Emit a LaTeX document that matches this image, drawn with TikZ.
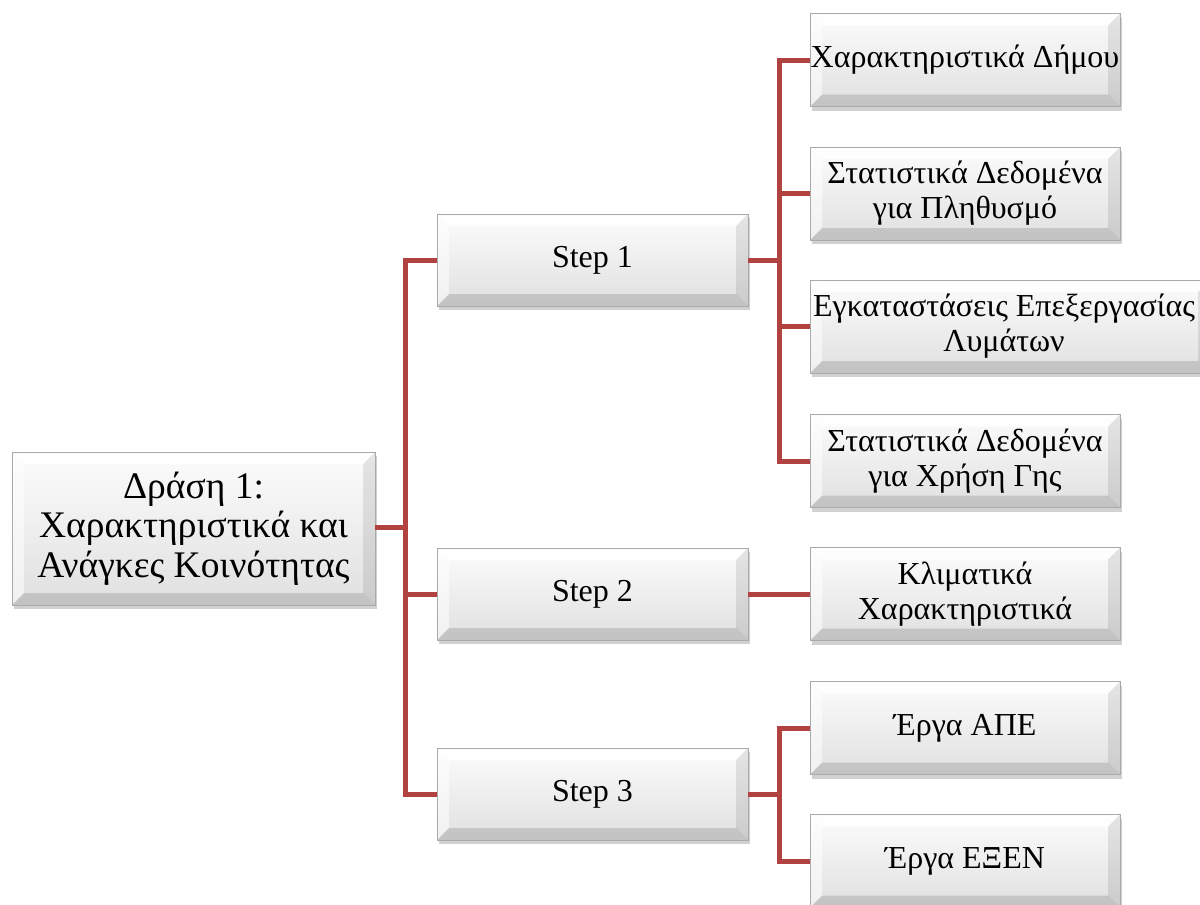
\documentclass[tikz,border=0pt]{standalone}
\usepackage{fontspec}
\setmainfont{Liberation Serif}
\usetikzlibrary{calc,shadows}
\definecolor{conncol}{RGB}{178,66,64}
\definecolor{facetop}{RGB}{252,252,252}
\definecolor{facebot}{RGB}{224,224,224}
\definecolor{edgecol}{RGB}{170,170,170}
\tikzset{
  bev/.style={draw=edgecol, line width=0.8pt, rectangle, inner sep=0pt,
    top color=facetop, bottom color=facebot,
    drop shadow={shadow xshift=1.5pt, shadow yshift=-4pt, opacity=0.3, fill=black!60},
    align=center, font=\fontsize{32}{35}\selectfont,
    path picture={
      \coordinate (bnw) at (path picture bounding box.north west);
      \coordinate (bne) at (path picture bounding box.north east);
      \coordinate (bsw) at (path picture bounding box.south west);
      \coordinate (bse) at (path picture bounding box.south east);
      \fill[white, opacity=0.85] (bnw) -- (bne) -- ($(bne)+(-12pt,-12pt)$) -- ($(bnw)+(12pt,-12pt)$) -- cycle;
      \fill[white, opacity=0.55] (bnw) -- ($(bnw)+(12pt,-12pt)$) -- ($(bsw)+(12pt,12pt)$) -- (bsw) -- cycle;
      \fill[black, opacity=0.09] (bne) -- (bse) -- ($(bse)+(-12pt,12pt)$) -- ($(bne)+(-12pt,-12pt)$) -- cycle;
      \fill[black, opacity=0.13] (bsw) -- (bse) -- ($(bse)+(-12pt,12pt)$) -- ($(bsw)+(12pt,12pt)$) -- cycle;
    }},
  rootbox/.style={bev, minimum width=363pt, minimum height=153pt, font=\fontsize{37.5}{39.5}\selectfont},
  stepbox/.style={bev, minimum width=311pt, minimum height=92pt},
  leafbox/.style={bev, minimum width=310pt, minimum height=93pt},
  leaftext/.style={font=\fontsize{32}{35}\selectfont, align=center},
  conn/.style={draw=conncol, line width=5pt}
}
\begin{document}
\begin{tikzpicture}[x=1pt,y=-1pt]
\useasboundingbox (0,0) rectangle (1200,905);
% nodes
\node[rootbox] (root) at (193.5,528.5) {Δράση 1:\\Χαρακτηριστικά και\\Ανάγκες Κοινότητας};
\node[stepbox] (s1) at (592.5,260) {Step 1};
\node[stepbox] (s2) at (592.5,594) {Step 2};
\node[stepbox] (s3) at (592.5,794) {Step 3};
\node[leafbox] (c1) at (965,60) {Χαρακτηριστικά Δήμου};
\node[leafbox] (c2) at (965,193.5) {Στατιστικά Δεδομένα\\για Πληθυσμό};
\node[leafbox, minimum width=400pt] (c3) at (1010,326.5) {};
\node[leaftext] (c3t) at (1004,326.5) {Εγκαταστάσεις Επεξεργασίας\\Λυμάτων};
\node[leafbox] (c4) at (965,461) {Στατιστικά Δεδομένα\\για Χρήση Γης};
\node[leafbox] (c5) at (965,594) {Κλιματικά\\Χαρακτηριστικά};
\node[leafbox] (c6) at (965,728) {Έργα ΑΠΕ};
\node[leafbox] (c7) at (965,861) {Έργα ΕΞΕΝ};
% trunk coordinates
\coordinate (t0) at (405,527);
\coordinate (t1) at (779,260);
\coordinate (t3) at (779,794);
% connectors
\draw[conn] (root.east |- t0) -- (t0);
\draw[conn] (t0) |- (s1.west);
\draw[conn] (t0) |- (s2.west);
\draw[conn] (t0) |- (s3.west);
\draw[conn] (s1.east) -- (t1);
\draw[conn] (t1) |- (c1.west);
\draw[conn] (t1) |- (c2.west);
\draw[conn] (t1) |- (c3.west);
\draw[conn] (t1) |- (c4.west);
\draw[conn] (s2.east) -- (c5.west);
\draw[conn] (s3.east) -- (t3);
\draw[conn] (t3) |- (c6.west);
\draw[conn] (t3) |- (c7.west);
\end{tikzpicture}
\end{document}
